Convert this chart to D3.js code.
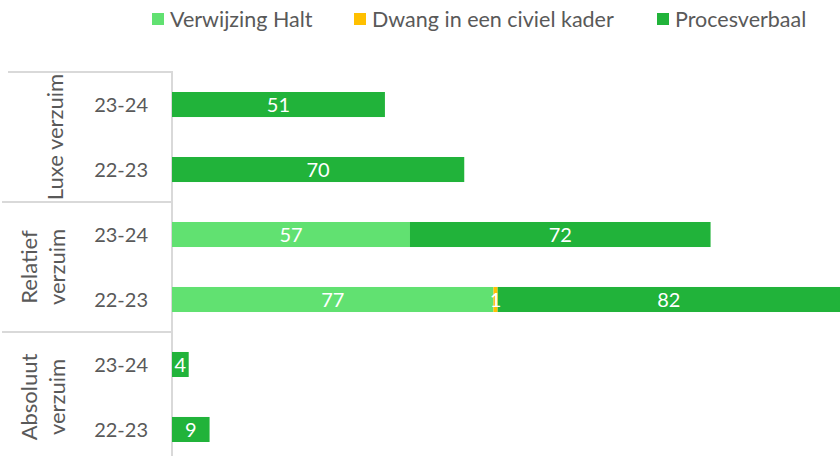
<!DOCTYPE html>
<html><head><meta charset="utf-8">
<script src="https://cdn.jsdelivr.net/npm/d3@7"></script>
<style>body{margin:0;background:#fff}svg{display:block}text{font-family:Lato,"Open Sans",sans-serif;font-weight:400}</style>
</head><body>
<svg id="c" width="840" height="456"></svg>
<script>
const categories = ["23-24","22-23","23-24","22-23","23-24","22-23"];
const groups = [["Luxe verzuim"],["Relatief","verzuim"],["Absoluut","verzuim"]];
const seriesNames = ["Verwijzing Halt","Dwang in een civiel kader","Procesverbaal"];
const verwijzingHalt = [0,0,57,77,0,0];
const dwang = [0,0,0,1,0,0];
const procesverbaal = [51,70,72,82,4,9];
const colors = ["#61e171","#ffc000","#21b33a"];

const svg = d3.select("#c");
const rows = categories.map((c,i)=>({i, c, "Verwijzing Halt":verwijzingHalt[i], "Dwang in een civiel kader":dwang[i], "Procesverbaal":procesverbaal[i]}));
const stack = d3.stack().keys(seriesNames)(rows);

const x = d3.scaleLinear().domain([0,160]).range([172,840]);
const y = d3.scaleBand().domain(d3.range(categories.length)).range([72,462]).paddingInner(0.615).paddingOuter(0.3077);
const step = y.step();
const gridColor = "#d9d9d9";
const textColor = "#595959";

// group separators
for (let g=0; g<groups.length; g++){
  const yy = 72 + g*2*step;
  svg.append("line").attr("x1",g===0?8:2).attr("x2",172).attr("y1",yy).attr("y2",yy).attr("stroke",gridColor).attr("stroke-width",2);
}
svg.append("line").attr("x1",172).attr("x2",172).attr("y1",71).attr("y2",462).attr("stroke",gridColor).attr("stroke-width",2);

// bars
stack.forEach((s,k)=>{
  const g = svg.append("g").attr("fill",colors[k]);
  s.forEach((d,i)=>{
    if (d[1]-d[0] <= 0) return;
    g.append("rect").attr("x",x(d[0])).attr("y",y(i)).attr("width",x(d[1])-x(d[0])).attr("height",y.bandwidth());
  });
});
// labels
stack.forEach((s,k)=>{
  s.forEach((d,i)=>{
    const v = d[1]-d[0];
    if (v <= 0) return;
    svg.append("text").attr("x",(x(d[0])+x(d[1]))/2).attr("y",y(i)+y.bandwidth()/2).attr("dy","0.36em")
      .attr("text-anchor","middle").attr("fill","#fff").attr("font-size",20).text(v);
  });
});

// category labels
categories.forEach((c,i)=>{
  svg.append("text").attr("x",148).attr("y",y(i)+y.bandwidth()/2).attr("dy","0.36em")
    .attr("text-anchor","end").attr("fill",textColor).attr("font-size",20).text(c);
});
// group labels
groups.forEach((lines,g)=>{
  const cy = 72 + g*2*step + step;
  const n = lines.length;
  const lh = 28;
  const cx = 43;
  lines.forEach((ln,j)=>{
    const xx = cx + (j-(n-1)/2)*lh + (n===1?12:0);
    svg.append("text").attr("transform",`translate(${xx},${cy}) rotate(-90)`).attr("dy","0.36em")
      .attr("text-anchor","middle").attr("fill",textColor).attr("font-size",22).text(ln);
  });
});

// legend
const legendX = [152, 354, 657];
seriesNames.forEach((n,k)=>{
  svg.append("rect").attr("x",legendX[k]).attr("y",13).attr("width",12).attr("height",12).attr("fill",colors[k]);
  svg.append("text").attr("x",legendX[k]+18).attr("y",19).attr("dy","0.36em").attr("fill",textColor).attr("font-size",21.5).text(n);
});
</script>
</body></html>
